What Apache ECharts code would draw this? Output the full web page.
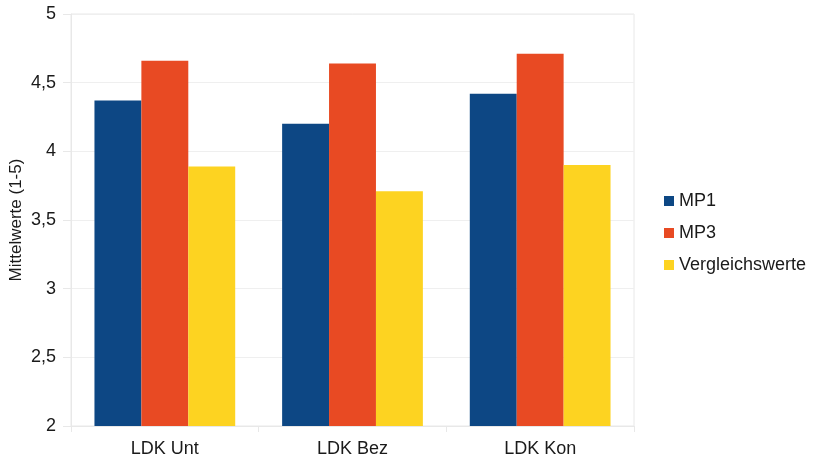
<!DOCTYPE html>
<html>
<head>
<meta charset="utf-8">
<script src="https://cdn.jsdelivr.net/npm/echarts@6/dist/echarts.min.js"></script>
<style>
  html, body { margin: 0; padding: 0; background: #ffffff; }
  #chart { width: 814px; height: 458px; }
</style>
</head>
<body>
<div id="chart"></div>
<script>
// Kategorien und Mittelwerte je Messpunkt
const categories = ['LDK Unt', 'LDK Bez', 'LDK Kon'];
const mp1 = [4.37, 4.20, 4.42];
const mp3 = [4.66, 4.64, 4.71];
const vergleichswerte = [3.89, 3.71, 3.90];
const yTicks = { min: 2, max: 5, step: 0.5 };

const FONT = '"Liberation Sans", Arial, sans-serif';
const lineColor = '#E8E8E8';

const chart = echarts.init(document.getElementById('chart'), null, { renderer: 'canvas' });

function barSeries(name, data, color) {
  return {
    name: name,
    type: 'bar',
    data: data,
    barGap: '0%',
    barCategoryGap: '25%',
    itemStyle: { color: color },
    emphasis: { disabled: true }
  };
}

chart.setOption({
  animation: false,
  textStyle: { fontFamily: FONT },
  grid: {
    left: 71, right: 180, top: 14, bottom: 32,
    containLabel: false,
    outerBoundsMode: 'none',
    show: true, borderColor: lineColor, borderWidth: 1
  },
  legend: {
    orient: 'vertical',
    left: 664,
    top: 191,
    padding: 0,
    icon: 'rect',
    itemWidth: 10,
    itemHeight: 10,
    itemGap: 12,
    textStyle: { fontFamily: FONT, fontSize: 18, color: '#1a1a1a', lineHeight: 20 },
    data: ['MP1', 'MP3', 'Vergleichswerte']
  },
  xAxis: {
    type: 'category',
    data: categories,
    axisLine: { show: true, lineStyle: { color: lineColor } },
    axisTick: { show: true, length: 6, lineStyle: { color: lineColor } },
    axisLabel: { fontFamily: FONT, fontSize: 18, color: '#1a1a1a', margin: 14 },
    splitLine: { show: false }
  },
  yAxis: {
    type: 'value',
    min: yTicks.min,
    max: yTicks.max,
    interval: yTicks.step,
    name: 'Mittelwerte (1-5)',
    nameLocation: 'middle',
    nameRotate: 90,
    nameGap: 46,
    nameMoveOverlap: false,
    nameTextStyle: { fontFamily: FONT, fontSize: 17, color: '#1a1a1a' },
    axisLine: { show: true, lineStyle: { color: lineColor } },
    axisTick: { show: true, length: 8, lineStyle: { color: lineColor } },
    axisLabel: {
      fontFamily: FONT, fontSize: 18, color: '#1a1a1a', margin: 15,
      formatter: v => String(v).replace('.', ',')
    },
    splitLine: { show: true, lineStyle: { color: '#EFEFEF' } }
  },
  series: [
    barSeries('MP1', mp1, '#0D4784'),
    barSeries('MP3', mp3, '#E84A23'),
    barSeries('Vergleichswerte', vergleichswerte, '#FDD321')
  ]
});
</script>
</body>
</html>
